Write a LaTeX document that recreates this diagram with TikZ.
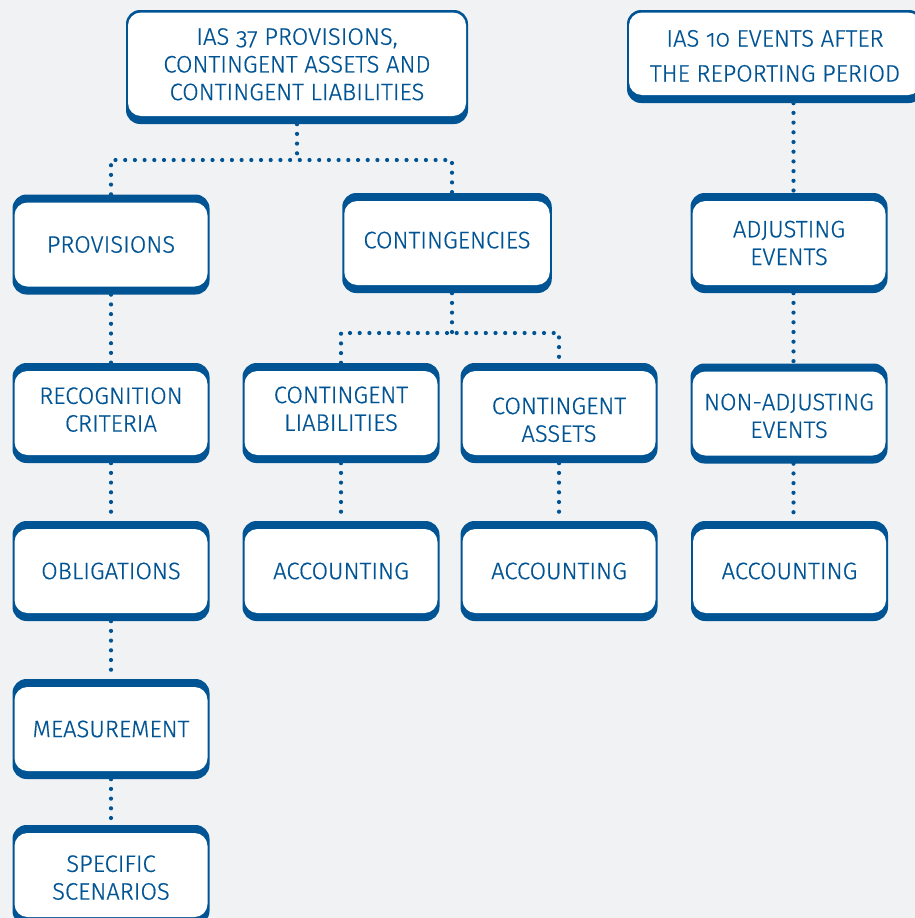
\documentclass[tikz,border=0pt]{standalone}
\usepackage{fontspec}
\setmainfont{Fira Sans Light}[Numbers=OldStyle, FakeBold=0.6]
\definecolor{ifrsblue}{HTML}{005494}
\definecolor{pagegray}{HTML}{F1F2F4}
\pgfdeclarelayer{bg}
\pgfdeclarelayer{links}
\pgfsetlayers{bg,links,main}

\tikzset{
  % rounded blue frame with a thin rim on the sides and heavy bands top and bottom
  box/.style={rectangle, rounded corners=14pt, fill=ifrsblue, inner sep=0pt,
    minimum width=197pt, minimum height=100pt, text=ifrsblue, align=center,
    font=\fontsize{23.8}{27.7}\selectfont,
    path picture={\fill[white, rounded corners=13pt]
      ([shift={(2pt,-8pt)}]path picture bounding box.north west) rectangle
      ([shift={(-2pt,8pt)}]path picture bounding box.south east);}},
  % title frame: thin rim on top, heavy band at the bottom
  headbox/.style={box,
    path picture={\fill[white, rounded corners=13pt]
      ([shift={(2pt,-2.5pt)}]path picture bounding box.north west) rectangle
      ([shift={(-2pt,8pt)}]path picture bounding box.south east);}},
  % vertical placement of the lettering inside a frame
  textbox/.style 2 args={text height=#1, text depth=#2},
  link/.style={draw=ifrsblue, line width=4.2pt, line cap=round,
    dash pattern=on 0pt off 9.7pt}
}

\begin{document}
\begin{tikzpicture}[x=1pt, y=-1pt]
\begin{pgfonlayer}{bg}
  \fill[pagegray] (0,0) rectangle (915,918);
\end{pgfonlayer}
\useasboundingbox (0,0) rectangle (915,918);
\clip (0,0) rectangle (915,918);

% standards
\node[headbox, minimum width=342pt, minimum height=114pt, textbox={71.9pt}{5.6pt}] (ias37) at (297,67)
  {IAS 37 PROVISIONS,\\CONTINGENT ASSETS AND\\CONTINGENT LIABILITIES};
\node[headbox, minimum width=296pt, minimum height=93pt, textbox={51.5pt}{1.4pt},
  font=\fontsize{23.8}{35}\selectfont] (ias10) at (775,56.5)
  {IAS 10 EVENTS AFTER\\THE REPORTING PERIOD};

% IAS 37 branches
\node[box] (prov) at (111,244.5) {PROVISIONS};
\node[box, minimum width=209.5pt, textbox={16.5pt}{6pt}] (contg) at (447,243) {CONTINGENCIES};
\node[box, textbox={44.2pt}{7pt}] (recog) at (111,413) {RECOGNITION\\CRITERIA};
\node[box] (oblig) at (111,571) {OBLIGATIONS};
\node[box] (meas) at (111,729) {MEASUREMENT};
\node[box, textbox={49.2pt}{0pt}] (spec) at (111,875) {SPECIFIC\\SCENARIOS};
\node[box, textbox={44.2pt}{8.6pt}] (cliab) at (341,413) {CONTINGENT\\LIABILITIES};
\node[box, textbox={57.6pt}{0pt}] (cass) at (559,413) {CONTINGENT\\ASSETS};
\node[box] (acc1) at (341,571) {ACCOUNTING};
\node[box] (acc2) at (559,571) {ACCOUNTING};

% IAS 10 branch
\node[box] (adj) at (789,243) {ADJUSTING\\EVENTS};
\node[box, textbox={48.8pt}{0pt}] (nonadj) at (789,413.5) {NON-ADJUSTING\\EVENTS};
\node[box] (acc3) at (789.5,571) {ACCOUNTING};

% trunk positions of the dotted connectors
\coordinate (j1) at (297,160);
\coordinate (ccol) at (452,0);
\coordinate (j2) at (452,333);
\coordinate (rcol) at (793.5,0);

\begin{pgfonlayer}{links}
  \draw[link] (ias37.south) -- (j1);
  \draw[link] (prov.north) |- (j1) -| (contg.north -| ccol);
  \draw[link] (contg.south -| ccol) -- (j2);
  \draw[link] (cliab.north) |- (j2) -| (cass.north);
  \draw[link] (prov.south) -- (recog.north);
  \draw[link] (recog.south) -- (oblig.north);
  \draw[link] (oblig.south) -- (meas.north);
  \draw[link] (meas.south) -- (spec.north);
  \draw[link] (cliab.south) -- (acc1.north);
  \draw[link] (cass.south) -- (acc2.north);
  \draw[link] (ias10.south -| rcol) -- (adj.north -| rcol);
  \draw[link] (adj.south -| rcol) -- (nonadj.north -| rcol);
  \draw[link] (nonadj.south -| rcol) -- (acc3.north -| rcol);
\end{pgfonlayer}
\end{tikzpicture}
\end{document}
